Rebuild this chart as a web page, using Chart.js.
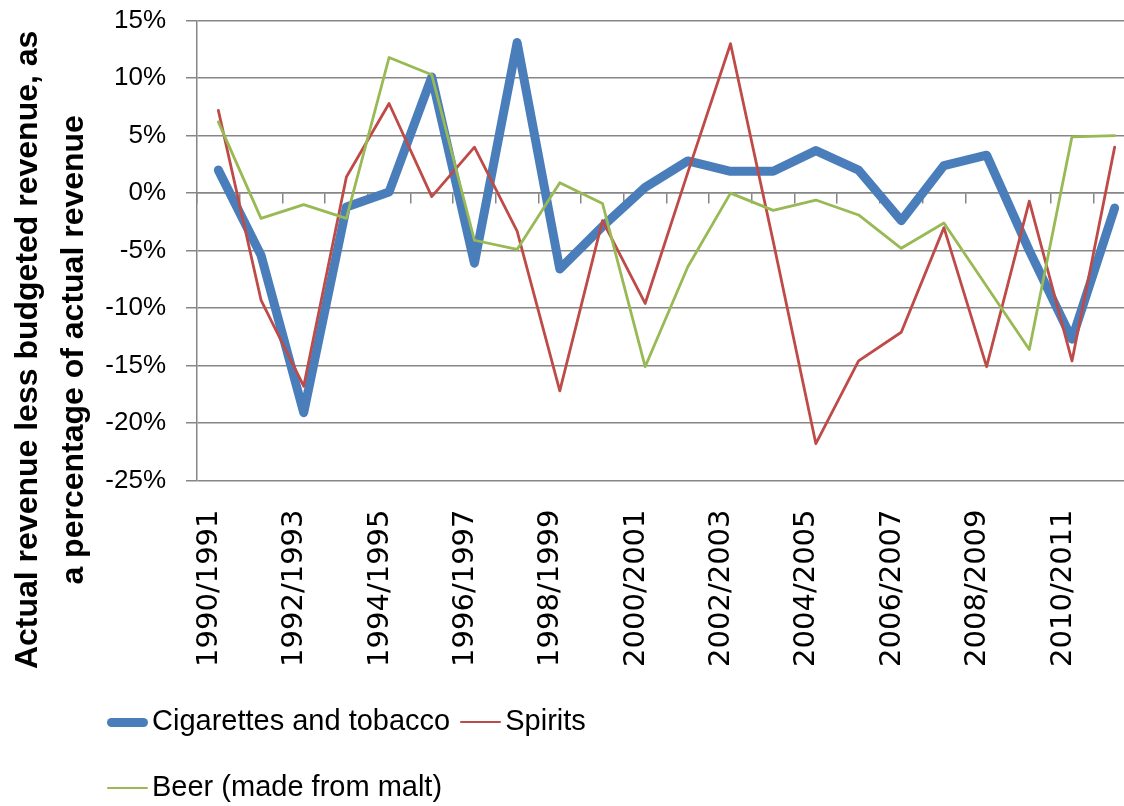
<!DOCTYPE html>
<html>
<head>
<meta charset="utf-8">
<script src="https://cdn.jsdelivr.net/npm/chart.js@4/dist/chart.umd.min.js"></script>
<style>
  html, body { margin: 0; padding: 0; background: #fff; overflow: hidden; }
  #wrap { position: relative; width: 1140px; height: 806px; }
  #legend { position: absolute; left: 0; top: 0; }
  .row { position: absolute; left: 107px; height: 40px; display: flex; align-items: center; }
  .item { display: flex; align-items: center; margin-right: 10px; }
  .sw { width: 41px; margin-right: 4px; position: relative; top: 2px; }
  .txt { font: 29px "Liberation Sans", Arial, sans-serif; line-height: 1; color: #000; white-space: nowrap; }
</style>
</head>
<body>
<div id="wrap">
  <canvas id="c" width="1140" height="806"></canvas>
  <div id="legend"></div>
</div>
<script>
// Fiscal years on the category axis
const categories = [
  '1990/1991', '1991/1992', '1992/1993', '1993/1994', '1994/1995', '1995/1996',
  '1996/1997', '1997/1998', '1998/1999', '1999/2000', '2000/2001', '2001/2002',
  '2002/2003', '2003/2004', '2004/2005', '2005/2006', '2006/2007', '2007/2008',
  '2008/2009', '2009/2010', '2010/2011', '2011/2012'
];

// Actual revenue less budgeted revenue, % of actual revenue
const cigarettes = [2.0, -5.4, -19.1, -1.2, 0.1, 10.1, -6.1, 13.1, -6.6, -2.9, 0.5,
  2.8, 1.9, 1.9, 3.7, 2.0, -2.4, 2.4, 3.3, -5.0, -12.7, -1.3];
const spirits = [7.2, -9.3, -16.8, 1.4, 7.8, -0.3, 4.0, -3.3, -17.2, -2.4, -9.6,
  1.8, 13.0, -4.2, -21.8, -14.6, -12.1, -3.0, -15.1, -0.7, -14.6, 4.0];
const beer = [6.2, -2.2, -1.0, -2.2, 11.8, 10.3, -4.1, -4.9, 0.9, -0.9, -15.1,
  -6.4, 0.0, -1.5, -0.6, -1.9, -4.8, -2.6, -8.1, -13.6, 4.9, 5.0];

const seriesNames = ['Cigarettes and tobacco', 'Spirits', 'Beer (made from malt)'];
const yTickValues = [-25, -20, -15, -10, -5, 0, 5, 10, 15];
const yTitleLines = ['Actual revenue less budgeted revenue, as', 'a percentage of actual revenue'];

const gridGray = '#868686';
const lineBase = {
  xAxisID: 'x', yAxisID: 'y', pointRadius: 0, pointHoverRadius: 0, tension: 0,
  fill: false, borderCapStyle: 'round', borderJoinStyle: 'round'
};

const chart = new Chart(document.getElementById('c'), {
  type: 'line',
  data: {
    labels: categories,
    datasets: [
      Object.assign({}, lineBase, { label: seriesNames[0], data: cigarettes,
        borderColor: '#4a7ebb', backgroundColor: '#4a7ebb', borderWidth: 9, order: 3 }),
      Object.assign({}, lineBase, { label: seriesNames[1], data: spirits,
        borderColor: '#be4b48', backgroundColor: '#be4b48', borderWidth: 2.8, order: 2 }),
      Object.assign({}, lineBase, { label: seriesNames[2], data: beer,
        borderColor: '#98b954', backgroundColor: '#98b954', borderWidth: 2.8, order: 1 })
    ]
  },
  options: {
    responsive: false,
    animation: false,
    layout: { padding: { top: 20.7, bottom: 127, left: 0, right: 4 } },
    plugins: {
      legend: { display: false },
      tooltip: { enabled: false },
      title: {
        display: true,
        position: 'left',
        text: yTitleLines,
        color: '#000',
        font: { family: 'Liberation Sans', size: 32, weight: 'bold', lineHeight: 46 / 32 },
        padding: { top: 5, bottom: 0 }
      }
    },
    scales: {
      // category axis crossing at 0% with tick marks between the years
      x: {
        type: 'category',
        position: { y: 0 },
        offset: true,
        grid: { display: true, drawOnChartArea: false, drawTicks: true, tickLength: 10,
                offset: true, color: gridGray, lineWidth: 1.5 },
        border: { display: true, color: gridGray, width: 1.5 },
        ticks: { display: false }
      },
      // year labels along the bottom edge of the plot
      x2: {
        type: 'category',
        position: 'bottom',
        offset: true,
        grid: { display: false },
        border: { display: false },
        ticks: {
          autoSkip: false, minRotation: 90, maxRotation: 90, padding: 21, labelOffset: -9,
          color: '#000', font: { family: 'DejaVu Sans', size: 29 },
          callback: (v, i) => (i % 2 === 0 ? categories[i] : '')
        },
        afterFit: s => { s.height = 198.5; s.paddingLeft = 0; s.paddingRight = 0; }
      },
      y: {
        type: 'linear',
        min: yTickValues[0],
        max: yTickValues[yTickValues.length - 1],
        afterBuildTicks: s => { s.ticks = yTickValues.map(v => ({ value: v })); },
        grid: { color: gridGray, lineWidth: 1.5, drawTicks: true, tickLength: 11 },
        border: { display: true, color: gridGray, width: 1.5 },
        ticks: {
          padding: 20, color: '#000',
          font: { family: 'Liberation Sans', size: 26 },
          callback: v => v + '%'
        },
        afterFit: s => { s.width = 100; s.paddingTop = 0; s.paddingBottom = 0; }
      }
    }
  }
});

// Legend drawn as HTML rows below the chart
const legendRows = [[0, 1], [2]];
const legendRowTops = [700, 766];
const legendEl = document.getElementById('legend');
legendRows.forEach((row, r) => {
  const rowEl = document.createElement('div');
  rowEl.className = 'row';
  rowEl.style.top = legendRowTops[r] + 'px';
  row.forEach(idx => {
    const ds = chart.data.datasets[idx];
    const item = document.createElement('div');
    item.className = 'item';
    const sw = document.createElement('div');
    sw.className = 'sw';
    sw.style.height = ds.borderWidth + 'px';
    sw.style.background = ds.borderColor;
    sw.style.borderRadius = (ds.borderWidth / 2) + 'px';
    const txt = document.createElement('span');
    txt.className = 'txt';
    txt.textContent = ds.label;
    item.appendChild(sw);
    item.appendChild(txt);
    rowEl.appendChild(item);
  });
  legendEl.appendChild(rowEl);
});
</script>
</body>
</html>
